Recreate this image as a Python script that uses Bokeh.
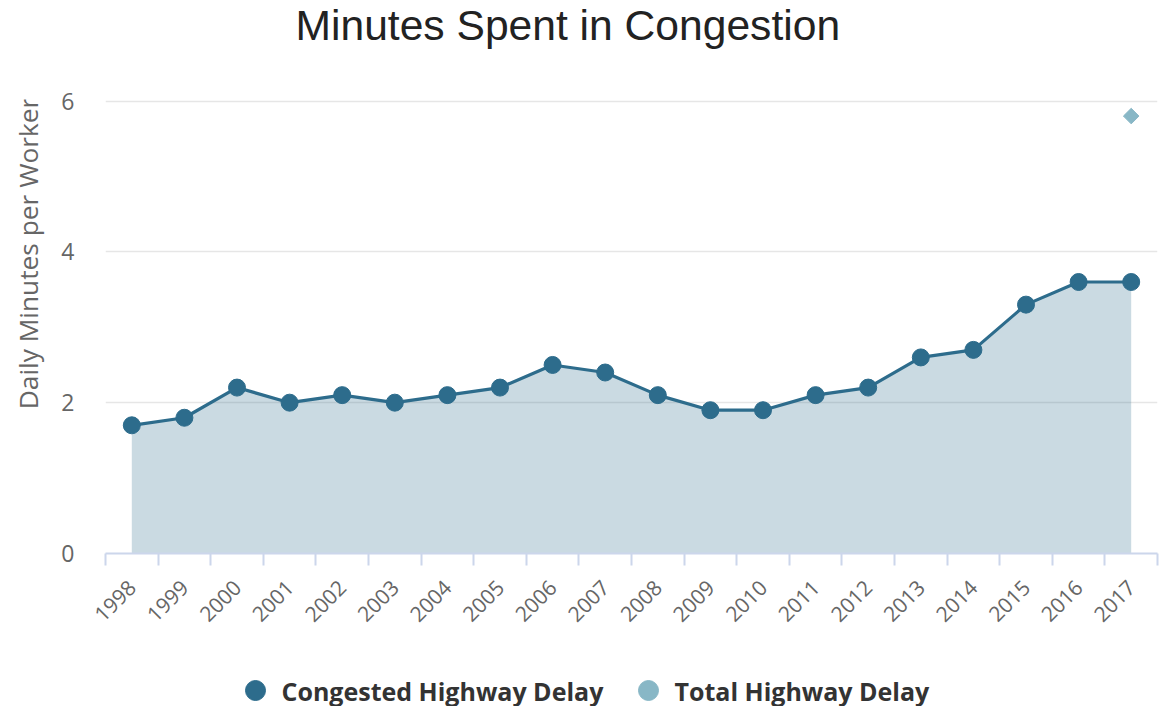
from bokeh.plotting import figure
from bokeh.models import Range1d, FixedTicker
from bokeh.layouts import column, row
from bokeh.core.properties import value
from bokeh.embed import file_html
from bokeh.resources import INLINE
import math

years = [str(y) for y in range(1998, 2018)]
congested = [1.7, 1.8, 2.2, 2.0, 2.1, 2.0, 2.1, 2.2, 2.5, 2.4, 2.1, 1.9, 1.9, 2.1, 2.2, 2.6, 2.7, 3.3, 3.6, 3.6]
total_years = ["2017"]
total = [5.8]
y_ticks = [0, 2, 4, 6]
series_names = ["Congested Highway Delay", "Total Highway Delay"]
chart_title = "Minutes Spent in Congestion"
y_title = "Daily Minutes per Worker"

LINE = "#2d6c8c"
LIGHT = "#88b7c6"
FONT = "Open Sans"

n = len(years)
xc = [i + 0.5 for i in range(n)]
xt = [years.index(y) + 0.5 for y in total_years]

W = 1160
TOP, BOT = 19, 97


def strip(w, h, top=0, bottom=0):
    f = figure(width=w, height=h, output_backend="svg", toolbar_location=None,
               x_range=Range1d(0, w), y_range=Range1d(0, h - top - bottom),
               min_border_left=0, min_border_right=0, min_border_top=top, min_border_bottom=bottom)
    f.axis.visible = False
    f.grid.visible = False
    f.outline_line_color = None
    return f


# title strip (pixel coordinates)
TH = 80
tf = strip(W, TH)
tf.text([295], [56], text=[chart_title], text_font=value("Liberation Sans"),
        text_font_size="42.6px", text_color="#222222",
        text_baseline="middle", text_align="left")

# main chart
MH = 570
LW = 58
p = figure(width=W - LW, height=MH, output_backend="svg", toolbar_location=None,
           x_range=Range1d(0, n), y_range=Range1d(0, 6.02),
           min_border_left=47, min_border_right=3, min_border_top=TOP, min_border_bottom=BOT)
p.outline_line_color = None

p.varea(x=xc, y1=[0] * n, y2=congested, fill_color=LINE, fill_alpha=0.25)
p.line(xc, congested, line_color=LINE, line_width=3.2)
p.scatter(xc, congested, size=17, fill_color=LINE, line_color=LINE, marker="circle")
p.scatter(xt, total, size=11, marker="square", angle=math.pi / 4,
          fill_color=LIGHT, line_color=LIGHT)

# grids
p.xgrid.grid_line_color = None
p.ygrid.ticker = FixedTicker(ticks=[2, 4, 6])
p.ygrid.grid_line_color = "#e6e6e6"
p.ygrid.grid_line_width = 1.5

# x axis
xa = p.xaxis[0]
xa.ticker = FixedTicker(ticks=xc, minor_ticks=list(range(n + 1)))
xa.major_label_overrides = {x: y for x, y in zip(xc, years)}
xa.major_tick_line_color = None
xa.minor_tick_line_color = "#ccd6eb"
xa.minor_tick_line_width = 2
xa.minor_tick_out = 12
xa.minor_tick_in = 0
xa.axis_line_color = "#ccd6eb"
xa.axis_line_width = 2
xa.major_label_orientation = math.pi / 4
xa.major_label_text_font = FONT
xa.major_label_text_font_size = "21px"
xa.major_label_text_color = "#666666"
xa.major_label_standoff = 18

# y axis
ya = p.yaxis[0]
ya.ticker = FixedTicker(ticks=y_ticks)
ya.axis_line_color = None
ya.major_tick_line_color = None
ya.minor_tick_line_color = None
ya.major_label_text_font = FONT
ya.major_label_text_font_size = "23px"
ya.major_label_text_color = "#666666"
ya.major_label_standoff = 25

# y axis title strip (frame aligned with chart frame)
yf = strip(LW, MH, TOP, BOT)
yf.text([27], [MH - TOP - BOT - 154], text=[y_title], text_font=value(FONT),
        text_font_size="26.3px", text_color="#666666", angle=math.pi / 2,
        text_baseline="middle", text_align="center")

# legend strip (pixel coordinates)
LH = 56
lg = strip(W, LH)
lg.scatter([255, 648], [16, 16], size=20, marker="circle",
           fill_color=[LINE, LIGHT], line_color=[LINE, LIGHT])
lg.text([281, 674], [16, 16], text=series_names, text_font=value(FONT),
        text_font_size="25px", text_font_style="bold", text_color="#333333",
        text_baseline="middle", text_align="left")

layout = column(tf, row(yf, p, spacing=0), lg, spacing=0)
open("out.html", "w").write(file_html(layout, INLINE))
